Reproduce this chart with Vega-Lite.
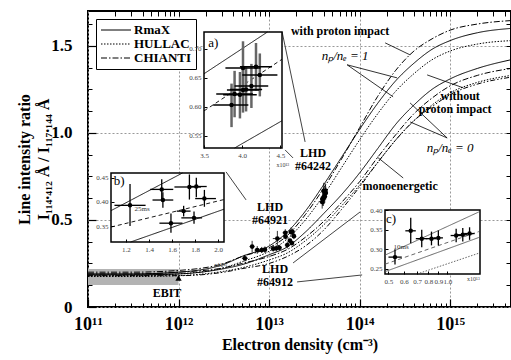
{
  "$schema": "https://vega.github.io/schema/vega-lite/v6.json",
  "width": 423,
  "height": 296,
  "autosize": {"type": "none"},
  "padding": {"left": 88, "top": 11, "right": 0, "bottom": 53},
  "background": "white",
  "config": {
    "view": {"stroke": "black", "strokeWidth": 2},
    "font": "Liberation Serif",
    "axis": {"labelFont": "Liberation Serif", "titleFont": "Liberation Serif", "labelFlush": false, "labelOverlap": false, "labelBound": false}
  },
  "datasets": {
    "curves": [
      {"n": 0.01, "A": 0.19, "B": 0.18, "C": 0.2, "D": 0.185, "E": 0.175, "F": 0.19, "G": 0.18},
      {"n": 0.0316, "A": 0.19, "B": 0.18, "C": 0.2, "D": 0.185, "E": 0.175, "F": 0.19, "G": 0.18},
      {"n": 0.1, "A": 0.2, "B": 0.19, "C": 0.21, "D": 0.19, "E": 0.18, "F": 0.2, "G": 0.18},
      {"n": 0.316, "A": 0.245, "B": 0.225, "C": 0.25, "D": 0.22, "E": 0.205, "F": 0.225, "G": 0.2},
      {"n": 0.5, "A": 0.29, "B": 0.26, "C": 0.29, "D": 0.243, "E": 0.225, "F": 0.25, "G": 0.22},
      {"n": 1, "A": 0.35, "B": 0.32, "C": 0.34, "D": 0.3, "E": 0.27, "F": 0.29, "G": 0.25},
      {"n": 1.585, "A": 0.43, "B": 0.39, "C": 0.41, "D": 0.345, "E": 0.31, "F": 0.33, "G": 0.29},
      {"n": 2.512, "A": 0.55, "B": 0.5, "C": 0.53, "D": 0.43, "E": 0.38, "F": 0.4, "G": 0.35},
      {"n": 3.981, "A": 0.7, "B": 0.64, "C": 0.68, "D": 0.535, "E": 0.47, "F": 0.49, "G": 0.44},
      {"n": 6.31, "A": 0.86, "B": 0.8, "C": 0.85, "D": 0.645, "E": 0.58, "F": 0.6, "G": 0.56},
      {"n": 10, "A": 1.02, "B": 0.96, "C": 1.03, "D": 0.77, "E": 0.7, "F": 0.72, "G": 0.69},
      {"n": 15.85, "A": 1.17, "B": 1.11, "C": 1.21, "D": 0.91, "E": 0.83, "F": 0.86, "G": 0.83},
      {"n": 25.12, "A": 1.3, "B": 1.24, "C": 1.36, "D": 1.05, "E": 0.96, "F": 0.99, "G": 0.96},
      {"n": 39.81, "A": 1.4, "B": 1.34, "C": 1.47, "D": 1.16, "E": 1.07, "F": 1.11, "G": 1.07},
      {"n": 63.1, "A": 1.48, "B": 1.42, "C": 1.54, "D": 1.25, "E": 1.16, "F": 1.2, "G": 1.15},
      {"n": 100, "A": 1.53, "B": 1.47, "C": 1.59, "D": 1.31, "E": 1.23, "F": 1.27, "G": 1.22},
      {"n": 199.5, "A": 1.575, "B": 1.51, "C": 1.625, "D": 1.37, "E": 1.29, "F": 1.33, "G": 1.28},
      {"n": 470, "A": 1.6, "B": 1.53, "C": 1.645, "D": 1.42, "E": 1.33, "F": 1.37, "G": 1.32}
    ],
    "models": [
      {"c": "A", "m": "RmaX"}, {"c": "B", "m": "HULLAC"}, {"c": "C", "m": "CHIANTI"},
      {"c": "D", "m": "RmaX"}, {"c": "E", "m": "HULLAC"}, {"c": "F", "m": "CHIANTI"}, {"c": "G", "m": "mono"}
    ],
    "pts": [
      {"s": "a", "n": 3.86, "r": 0.603, "nlo": 3.62, "nhi": 4.08, "rlo": 0.565, "rhi": 0.64},
      {"s": "a", "n": 3.9, "r": 0.622, "nlo": 3.66, "nhi": 4.14, "rlo": 0.582, "rhi": 0.662},
      {"s": "a", "n": 3.97, "r": 0.621, "nlo": 3.75, "nhi": 4.19, "rlo": 0.58, "rhi": 0.66},
      {"s": "a", "n": 4.01, "r": 0.629, "nlo": 3.8, "nhi": 4.22, "rlo": 0.59, "rhi": 0.668},
      {"s": "a", "n": 4.05, "r": 0.63, "nlo": 3.84, "nhi": 4.26, "rlo": 0.592, "rhi": 0.668},
      {"s": "a", "n": 4.12, "r": 0.636, "nlo": 3.9, "nhi": 4.34, "rlo": 0.598, "rhi": 0.674},
      {"s": "a", "n": 4.01, "r": 0.667, "nlo": 3.78, "nhi": 4.24, "rlo": 0.62, "rhi": 0.713},
      {"s": "a", "n": 4.18, "r": 0.669, "nlo": 3.97, "nhi": 4.39, "rlo": 0.628, "rhi": 0.71},
      {"s": "a", "n": 4.23, "r": 0.655, "nlo": 4.0, "nhi": 4.46, "rlo": 0.618, "rhi": 0.692},
      {"s": "b", "n": 1.235, "r": 0.393, "nlo": 1.1, "nhi": 1.37, "rlo": 0.35, "rhi": 0.437},
      {"s": "b", "n": 1.51, "r": 0.426, "nlo": 1.41, "nhi": 1.61, "rlo": 0.405, "rhi": 0.447},
      {"s": "b", "n": 1.52, "r": 0.404, "nlo": 1.43, "nhi": 1.61, "rlo": 0.388, "rhi": 0.42},
      {"s": "b", "n": 1.59, "r": 0.356, "nlo": 1.49, "nhi": 1.69, "rlo": 0.336, "rhi": 0.376},
      {"s": "b", "n": 1.7, "r": 0.381, "nlo": 1.64, "nhi": 1.76, "rlo": 0.37, "rhi": 0.392},
      {"s": "b", "n": 1.75, "r": 0.431, "nlo": 1.62, "nhi": 1.85, "rlo": 0.405, "rhi": 0.457},
      {"s": "b", "n": 1.81, "r": 0.432, "nlo": 1.74, "nhi": 1.9, "rlo": 0.41, "rhi": 0.45},
      {"s": "b", "n": 1.79, "r": 0.367, "nlo": 1.68, "nhi": 1.86, "rlo": 0.355, "rhi": 0.38},
      {"s": "b", "n": 1.88, "r": 0.407, "nlo": 1.8, "nhi": 1.98, "rlo": 0.39, "rhi": 0.425},
      {"s": "c", "n": 0.54, "r": 0.28, "nlo": 0.5, "nhi": 0.585, "rlo": 0.261, "rhi": 0.3},
      {"s": "c", "n": 0.65, "r": 0.347, "nlo": 0.61, "nhi": 0.69, "rlo": 0.315, "rhi": 0.38},
      {"s": "c", "n": 0.74, "r": 0.327, "nlo": 0.69, "nhi": 0.79, "rlo": 0.305, "rhi": 0.35},
      {"s": "c", "n": 0.83, "r": 0.327, "nlo": 0.78, "nhi": 0.88, "rlo": 0.31, "rhi": 0.345},
      {"s": "c", "n": 0.9, "r": 0.329, "nlo": 0.85, "nhi": 0.95, "rlo": 0.31, "rhi": 0.348},
      {"s": "c", "n": 1.11, "r": 0.335, "nlo": 1.04, "nhi": 1.18, "rlo": 0.318, "rhi": 0.352},
      {"s": "c", "n": 1.2, "r": 0.337, "nlo": 1.13, "nhi": 1.27, "rlo": 0.32, "rhi": 0.354},
      {"s": "c", "n": 1.3, "r": 0.34, "nlo": 1.22, "nhi": 1.38, "rlo": 0.324, "rhi": 0.356}
    ],
    "frames": [
      {"s": "a", "x1": 3.5, "x2": 4.52, "y1": 0.529, "y2": 0.729},
      {"s": "b", "x1": 1.07, "x2": 2.05, "y1": 0.317, "y2": 0.46},
      {"s": "c", "x1": 0.48, "x2": 1.47, "y1": 0.237, "y2": 0.4}
    ],
    "il": [
      {"s": "a", "id": "a1", "k": "RmaX", "n": 3.5, "r": 0.657}, {"s": "a", "id": "a1", "k": "RmaX", "n": 4.33, "r": 0.729},
      {"s": "a", "id": "a2", "k": "dash", "n": 3.5, "r": 0.593}, {"s": "a", "id": "a2", "k": "dash", "n": 4.52, "r": 0.682},
      {"s": "a", "id": "a3", "k": "RmaX", "n": 3.9, "r": 0.529}, {"s": "a", "id": "a3", "k": "RmaX", "n": 4.52, "r": 0.576},
      {"s": "b", "id": "b1", "k": "RmaX", "n": 1.07, "r": 0.382}, {"s": "b", "id": "b1", "k": "RmaX", "n": 1.69, "r": 0.46},
      {"s": "b", "id": "b2", "k": "dash", "n": 1.07, "r": 0.348}, {"s": "b", "id": "b2", "k": "dash", "n": 2.05, "r": 0.405},
      {"s": "b", "id": "b3", "k": "RmaX", "n": 1.24, "r": 0.317}, {"s": "b", "id": "b3", "k": "RmaX", "n": 2.05, "r": 0.385},
      {"s": "c", "id": "c1", "k": "RmaX", "n": 0.48, "r": 0.285}, {"s": "c", "id": "c1", "k": "RmaX", "n": 1.45, "r": 0.395},
      {"s": "c", "id": "c2", "k": "dash", "n": 0.48, "r": 0.262}, {"s": "c", "id": "c2", "k": "dash", "n": 1.45, "r": 0.345},
      {"s": "c", "id": "c3", "k": "RmaX", "n": 0.48, "r": 0.243}, {"s": "c", "id": "c3", "k": "RmaX", "n": 1.45, "r": 0.33},
      {"s": "c", "id": "c4", "k": "HULLAC", "n": 0.7, "r": 0.237}, {"s": "c", "id": "c4", "k": "HULLAC", "n": 1.45, "r": 0.29}
    ],
    "itext": [
      {"s": "a", "g": "big", "t": "a)", "n": 3.62, "r": 0.71},
      {"s": "a", "g": "exp", "t": "x10¹³", "n": 4.53, "r": 0.5},
      {"s": "b", "g": "big", "t": "b)", "n": 1.14, "r": 0.443},
      {"s": "b", "g": "small", "t": "25ms", "n": 1.34, "r": 0.386},
      {"s": "b", "g": "exp", "t": "x10¹³", "n": 2.02, "r": 0.27},
      {"s": "c", "g": "big", "t": "c)", "n": 0.515, "r": 0.378},
      {"s": "c", "g": "small", "t": "10ms", "n": 0.58, "r": 0.306},
      {"s": "c", "g": "exp", "t": "x10¹³", "n": 1.36, "r": 0.225}
    ],
    "labels": [
      {"g": "b", "t": "with proton impact", "n": 6.09, "r": 1.586},
      {"g": "i", "t": "nₚ/nₑ = 1", "n": 6.92, "r": 1.443},
      {"g": "b", "t": "without", "n": 128.9, "r": 1.214},
      {"g": "b", "t": "proton impact", "n": 113.6, "r": 1.14},
      {"g": "i", "t": "nₚ/nₑ = 0", "n": 100, "r": 0.914},
      {"g": "b", "t": "monoenergetic", "n": 28, "r": 0.695},
      {"g": "b", "t": "LHD", "n": 3.06, "r": 0.885},
      {"g": "b", "t": "#64242", "n": 3.06, "r": 0.812},
      {"g": "b", "t": "LHD", "n": 1.026, "r": 0.575},
      {"g": "b", "t": "#64921", "n": 1.026, "r": 0.502},
      {"g": "b", "t": "LHD", "n": 1.165, "r": 0.216},
      {"g": "b", "t": "#64912", "n": 1.165, "r": 0.143},
      {"g": "b", "t": "EBIT", "n": 0.0746, "r": 0.08}
    ],
    "leaders": [
      {"g": "l", "n": 1.393, "r": 1.58, "n2": 2.5, "r2": 0.948},
      {"g": "l", "n": 1.503, "r": 0.902, "n2": 1.841, "r2": 0.856},
      {"g": "l", "n": 0.335, "r": 0.776, "n2": 0.557, "r2": 0.615},
      {"g": "l", "n": 1.841, "r": 0.253, "n2": 10.13, "r2": 0.546},
      {"g": "l", "n": 2.04, "r": 0.144, "n2": 10.66, "r2": 0.184},
      {"g": "a", "n": 19.14, "r": 1.517, "n2": 36.1, "r2": 1.448},
      {"g": "a", "n": 7.28, "r": 1.391, "n2": 25.96, "r2": 1.316},
      {"g": "a", "n": 7.28, "r": 1.391, "n2": 23.44, "r2": 1.207},
      {"g": "a", "n": 139.2, "r": 1.259, "n2": 55.7, "r2": 1.333},
      {"g": "a", "n": 92.6, "r": 0.971, "n2": 36.1, "r2": 1.172},
      {"g": "a", "n": 92.6, "r": 0.971, "n2": 36.1, "r2": 1.063},
      {"g": "a", "n": 30.3, "r": 0.741, "n2": 15.6, "r2": 0.862}
    ]
  },
  "layer": [
    {
      "encoding": {
        "x": {
          "field": "n", "type": "quantitative",
          "scale": {"type": "log", "domain": [0.01, 470], "nice": false},
          "axis": {
            "orient": "bottom",
            "values": [0.01, 0.1, 1, 10, 100],
            "labelExpr": "datum.value < 0.05 ? '10¹¹' : datum.value < 0.5 ? '10¹²' : datum.value < 5 ? '10¹³' : datum.value < 50 ? '10¹⁴' : '10¹⁵'",
            "title": "Electron density (cm⁻³)",
            "titleFontSize": 16, "titleFontWeight": "bold", "titleColor": "black", "titlePadding": 3,
            "labelFontSize": 18, "labelFontWeight": "bold", "labelColor": "black", "labelPadding": 16,
            "grid": true, "gridColor": "#999", "gridDash": [2, 2], "gridWidth": 1,
            "tickSize": -8, "tickColor": "black", "tickWidth": 1.2, "domain": false
          }
        },
        "y": {
          "field": "r", "type": "quantitative",
          "scale": {"domain": [0, 1.7], "nice": false},
          "axis": {
            "orient": "left",
            "values": [0, 0.5, 1, 1.5],
            "labelExpr": "datum.value == 0 ? '0' : format(datum.value, '.1f')",
            "title": ["Line intensity ratio", "I₁₁₄.₄₁₂ Å / I₁₁₇.₁₄₄ Å"],
            "titleFontSize": 16, "titleFontWeight": "bold", "titleColor": "black", "titlePadding": -1, "titleLineHeight": 19,
            "labelFontSize": 17, "labelFontWeight": "bold", "labelColor": "black", "labelPadding": 24,
            "grid": true, "gridColor": "#999", "gridDash": [2, 2], "gridWidth": 1,
            "tickSize": -8, "tickColor": "black", "tickWidth": 1.2, "domain": false
          }
        }
      },
      "layer": [
        {
          "data": {"values": [{"n": 0.01, "n2": 0.1, "r": 0.126, "r2": 0.218}]},
          "mark": {"type": "rect", "color": "#b3b3b3"},
          "encoding": {"x2": {"field": "n2"}, "y2": {"field": "r2"}}
        },
        {
          "data": {"name": "curves"},
          "transform": [
            {"fold": ["A", "B", "C", "D", "E", "F", "G"], "as": ["c", "r"]},
            {"lookup": "c", "from": {"data": {"name": "models"}, "key": "c", "fields": ["m"]}}
          ],
          "mark": {"type": "line", "color": "black", "strokeWidth": 1, "interpolate": "monotone", "clip": true},
          "encoding": {
            "detail": {"field": "c"},
            "strokeDash": {
              "field": "m", "type": "nominal",
              "scale": {"domain": ["RmaX", "HULLAC", "CHIANTI", "mono", "dash"], "range": [[1, 0], [1.5, 1.5], [6, 2, 1.5, 2], [5, 2, 1.5, 2, 1.5, 2], [4, 3]]},
              "legend": {
                "orient": "top-left", "offset": 8, "title": null,
                "values": ["RmaX", "HULLAC", "CHIANTI"],
                "symbolType": "M-1,0L4,0", "symbolSize": 144, "symbolStrokeWidth": 1.2, "symbolStrokeColor": "black",
                "labelFont": "Liberation Serif", "labelFontWeight": "bold", "labelFontSize": 13, "labelColor": "black",
                "strokeColor": "black", "fillColor": "white", "padding": 4, "rowPadding": 0, "labelOffset": 20
              }
            }
          }
        },
        {
          "data": {"name": "pts"},
          "mark": {"type": "rule", "color": "black", "strokeWidth": 0.8},
          "encoding": {"x": {"field": "nlo", "type": "quantitative"}, "x2": {"field": "nhi"}}
        },
        {
          "data": {"name": "pts"},
          "mark": {"type": "rule", "color": "black", "strokeWidth": 0.8},
          "encoding": {"y": {"field": "rlo", "type": "quantitative"}, "y2": {"field": "rhi"}}
        },
        {
          "data": {"name": "pts"},
          "mark": {"type": "point", "filled": true, "color": "black", "size": 22, "opacity": 1}
        },
        {
          "data": {"values": [{"n": 0.1, "r": 0.167}]},
          "mark": {"type": "point", "shape": "triangle-up", "filled": true, "color": "black", "size": 40, "opacity": 1}
        },
        {
          "data": {"name": "leaders"},
          "transform": [{"filter": "datum.g == 'l'"}],
          "mark": {"type": "rule", "color": "#444", "strokeWidth": 1},
          "encoding": {"x2": {"field": "n2"}, "y2": {"field": "r2"}}
        },
        {
          "data": {"name": "leaders"},
          "transform": [{"filter": "datum.g == 'a'"}],
          "mark": {"type": "rule", "color": "black", "strokeWidth": 0.8},
          "encoding": {"x2": {"field": "n2"}, "y2": {"field": "r2"}}
        },
        {
          "data": {"name": "labels"},
          "transform": [{"filter": "datum.g == 'b'"}],
          "mark": {"type": "text", "font": "Liberation Serif", "fontWeight": "bold", "fontSize": 12, "color": "black"},
          "encoding": {"text": {"field": "t"}}
        },
        {
          "data": {"name": "labels"},
          "transform": [{"filter": "datum.g == 'i'"}],
          "mark": {"type": "text", "font": "Liberation Serif", "fontStyle": "italic", "fontSize": 13, "color": "black"},
          "encoding": {"text": {"field": "t"}}
        }
      ]
    },
    {
      "encoding": {
        "x": {
          "field": "n", "type": "quantitative",
          "scale": {"domain": [3.5, 4.52], "range": [116, 194], "nice": false, "zero": false},
          "axis": {"orient": "bottom", "offset": -159, "values": [3.5, 4.0, 4.5], "format": ".1f", "title": null, "domain": false, "grid": false, "tickSize": -3, "tickColor": "black", "labelFontSize": 7, "labelColor": "#444", "labelPadding": 6, "zindex": 2}
        },
        "y": {
          "field": "r", "type": "quantitative",
          "scale": {"domain": [0.529, 0.729], "range": [137, 21], "nice": false, "zero": false},
          "axis": {"orient": "left", "offset": -116, "values": [0.55, 0.6, 0.65, 0.7], "format": ".2f", "title": null, "domain": false, "grid": false, "tickSize": -3, "tickColor": "black", "labelFontSize": 7, "labelColor": "#444", "labelPadding": 6, "zindex": 2}
        }
      },
      "layer": [
        {
          "data": {"name": "frames"},
          "transform": [{"filter": "datum.s == 'a'"}],
          "mark": {"type": "rect", "fill": "white", "stroke": "black", "strokeWidth": 1.5},
          "encoding": {"x": {"field": "x1", "type": "quantitative"}, "x2": {"field": "x2"}, "y": {"field": "y1", "type": "quantitative"}, "y2": {"field": "y2"}}
        },
        {
          "data": {"name": "il"},
          "transform": [{"filter": "datum.s == 'a'"}],
          "mark": {"type": "line", "color": "black", "strokeWidth": 0.9},
          "encoding": {"detail": {"field": "id"}, "strokeDash": {"field": "k", "type": "nominal", "legend": null}}
        },
        {
          "data": {"name": "pts"},
          "transform": [{"filter": "datum.s == 'a'"}],
          "mark": {"type": "rule", "color": "#666", "strokeWidth": 2.5},
          "encoding": {"y": {"field": "rlo", "type": "quantitative"}, "y2": {"field": "rhi"}}
        },
        {
          "data": {"name": "pts"},
          "transform": [{"filter": "datum.s == 'a'"}],
          "mark": {"type": "rule", "color": "black", "strokeWidth": 1.5},
          "encoding": {"x": {"field": "nlo", "type": "quantitative"}, "x2": {"field": "nhi"}}
        },
        {
          "data": {"name": "pts"},
          "transform": [{"filter": "datum.s == 'a'"}],
          "mark": {"type": "point", "filled": true, "color": "black", "size": 20, "opacity": 1}
        },
        {
          "data": {"name": "itext"},
          "transform": [{"filter": "datum.s == 'a' && datum.g == 'big'"}],
          "mark": {"type": "text", "fontSize": 13, "color": "black", "font": "Liberation Serif"},
          "encoding": {"text": {"field": "t"}}
        },
        {
          "data": {"name": "itext"},
          "transform": [{"filter": "datum.s == 'a' && datum.g == 'exp'"}],
          "mark": {"type": "text", "fontSize": 6, "color": "#444", "font": "Liberation Serif"},
          "encoding": {"text": {"field": "t"}}
        }
      ]
    },
    {
      "encoding": {
        "x": {
          "field": "n", "type": "quantitative",
          "scale": {"domain": [1.07, 2.05], "range": [23, 136], "nice": false, "zero": false},
          "axis": {"orient": "bottom", "offset": -65, "values": [1.2, 1.4, 1.6, 1.8, 2.0], "format": ".1f", "title": null, "domain": false, "grid": false, "tickSize": -3, "tickColor": "black", "labelFontSize": 7, "labelColor": "#444", "labelPadding": 6, "zindex": 2}
        },
        "y": {
          "field": "r", "type": "quantitative",
          "scale": {"domain": [0.317, 0.46], "range": [231, 162], "nice": false, "zero": false},
          "axis": {"orient": "left", "offset": -23, "values": [0.35, 0.4, 0.45], "format": ".2f", "title": null, "domain": false, "grid": false, "tickSize": -3, "tickColor": "black", "labelFontSize": 7, "labelColor": "#444", "labelPadding": 6, "zindex": 2}
        }
      },
      "layer": [
        {
          "data": {"name": "frames"},
          "transform": [{"filter": "datum.s == 'b'"}],
          "mark": {"type": "rect", "fill": "white", "stroke": "black", "strokeWidth": 1.5},
          "encoding": {"x": {"field": "x1", "type": "quantitative"}, "x2": {"field": "x2"}, "y": {"field": "y1", "type": "quantitative"}, "y2": {"field": "y2"}}
        },
        {
          "data": {"name": "il"},
          "transform": [{"filter": "datum.s == 'b'"}],
          "mark": {"type": "line", "color": "black", "strokeWidth": 0.9},
          "encoding": {"detail": {"field": "id"}, "strokeDash": {"field": "k", "type": "nominal", "legend": null}}
        },
        {
          "data": {"name": "pts"},
          "transform": [{"filter": "datum.s == 'b'"}],
          "mark": {"type": "rule", "color": "black", "strokeWidth": 1.3},
          "encoding": {"y": {"field": "rlo", "type": "quantitative"}, "y2": {"field": "rhi"}}
        },
        {
          "data": {"name": "pts"},
          "transform": [{"filter": "datum.s == 'b'"}],
          "mark": {"type": "rule", "color": "black", "strokeWidth": 1.3},
          "encoding": {"x": {"field": "nlo", "type": "quantitative"}, "x2": {"field": "nhi"}}
        },
        {
          "data": {"name": "pts"},
          "transform": [{"filter": "datum.s == 'b'"}],
          "mark": {"type": "point", "filled": true, "color": "black", "size": 20, "opacity": 1}
        },
        {
          "data": {"name": "itext"},
          "transform": [{"filter": "datum.s == 'b' && datum.g == 'big'"}],
          "mark": {"type": "text", "fontSize": 13, "color": "black", "font": "Liberation Serif"},
          "encoding": {"text": {"field": "t"}}
        },
        {
          "data": {"name": "itext"},
          "transform": [{"filter": "datum.s == 'b' && datum.g == 'small'"}],
          "mark": {"type": "text", "fontSize": 7, "color": "#333", "font": "Liberation Serif"},
          "encoding": {"text": {"field": "t"}}
        },
        {
          "data": {"name": "itext"},
          "transform": [{"filter": "datum.s == 'b' && datum.g == 'exp'"}],
          "mark": {"type": "text", "fontSize": 6, "color": "#444", "font": "Liberation Serif"},
          "encoding": {"text": {"field": "t"}}
        }
      ]
    },
    {
      "encoding": {
        "x": {
          "field": "n", "type": "quantitative",
          "scale": {"type": "log", "domain": [0.48, 1.47], "range": [297, 392], "nice": false},
          "axis": {"orient": "bottom", "offset": -33, "values": [0.5, 0.6, 0.7, 0.8, 0.9, 1.0], "format": ".1f", "title": null, "domain": false, "grid": false, "tickSize": -3, "tickColor": "black", "labelFontSize": 7, "labelColor": "#444", "labelPadding": 6, "zindex": 2}
        },
        "y": {
          "field": "r", "type": "quantitative",
          "scale": {"domain": [0.237, 0.4], "range": [263, 199], "nice": false, "zero": false},
          "axis": {"orient": "left", "offset": -297, "values": [0.25, 0.3, 0.35, 0.4], "format": ".2f", "title": null, "domain": false, "grid": false, "tickSize": -3, "tickColor": "black", "labelFontSize": 7, "labelColor": "#444", "labelPadding": 6, "zindex": 2}
        }
      },
      "layer": [
        {
          "data": {"name": "frames"},
          "transform": [{"filter": "datum.s == 'c'"}],
          "mark": {"type": "rect", "fill": "white", "stroke": "black", "strokeWidth": 1.5},
          "encoding": {"x": {"field": "x1", "type": "quantitative"}, "x2": {"field": "x2"}, "y": {"field": "y1", "type": "quantitative"}, "y2": {"field": "y2"}}
        },
        {
          "data": {"name": "il"},
          "transform": [{"filter": "datum.s == 'c'"}],
          "mark": {"type": "line", "color": "#555", "strokeWidth": 0.9},
          "encoding": {"detail": {"field": "id"}, "strokeDash": {"field": "k", "type": "nominal", "legend": null}}
        },
        {
          "data": {"name": "pts"},
          "transform": [{"filter": "datum.s == 'c'"}],
          "mark": {"type": "rule", "color": "black", "strokeWidth": 1.3},
          "encoding": {"y": {"field": "rlo", "type": "quantitative"}, "y2": {"field": "rhi"}}
        },
        {
          "data": {"name": "pts"},
          "transform": [{"filter": "datum.s == 'c'"}],
          "mark": {"type": "rule", "color": "black", "strokeWidth": 1.3},
          "encoding": {"x": {"field": "nlo", "type": "quantitative"}, "x2": {"field": "nhi"}}
        },
        {
          "data": {"name": "pts"},
          "transform": [{"filter": "datum.s == 'c'"}],
          "mark": {"type": "point", "filled": true, "color": "black", "size": 20, "opacity": 1}
        },
        {
          "data": {"name": "itext"},
          "transform": [{"filter": "datum.s == 'c' && datum.g == 'big'"}],
          "mark": {"type": "text", "fontSize": 13, "color": "black", "font": "Liberation Serif"},
          "encoding": {"text": {"field": "t"}}
        },
        {
          "data": {"name": "itext"},
          "transform": [{"filter": "datum.s == 'c' && datum.g == 'small'"}],
          "mark": {"type": "text", "fontSize": 7, "color": "#333", "font": "Liberation Serif"},
          "encoding": {"text": {"field": "t"}}
        },
        {
          "data": {"name": "itext"},
          "transform": [{"filter": "datum.s == 'c' && datum.g == 'exp'"}],
          "mark": {"type": "text", "fontSize": 6, "color": "#444", "font": "Liberation Serif"},
          "encoding": {"text": {"field": "t"}}
        }
      ]
    },
    {
      "data": {"values": [{"n": 1, "r": 1}]},
      "mark": {"type": "point", "opacity": 0},
      "encoding": {
        "x": {
          "field": "n", "type": "quantitative",
          "scale": {"type": "log", "domain": [0.01, 470], "nice": false},
          "axis": {"orient": "bottom", "values": [0.02,0.03,0.04,0.05,0.06,0.07,0.08,0.09,0.2,0.3,0.4,0.5,0.6,0.7,0.8,0.9,2,3,4,5,6,7,8,9,20,30,40,50,60,70,80,90,200,300,400], "labels": false, "title": null, "grid": false, "domain": false, "tickSize": -4, "tickColor": "black", "tickWidth": 1}
        },
        "y": {
          "field": "r", "type": "quantitative",
          "scale": {"domain": [0, 1.7], "nice": false},
          "axis": {"orient": "left", "values": [0.125,0.25,0.375,0.625,0.75,0.875,1.125,1.25,1.375,1.625], "labels": false, "title": null, "grid": false, "domain": false, "tickSize": -4, "tickColor": "black", "tickWidth": 1}
        }
      }
    },
    {
      "data": {"values": [{"n": 1, "r": 1}]},
      "mark": {"type": "point", "opacity": 0},
      "encoding": {
        "x": {
          "field": "n", "type": "quantitative",
          "scale": {"type": "log", "domain": [0.01, 470], "nice": false},
          "axis": {"orient": "top", "values": [0.02,0.03,0.04,0.05,0.06,0.07,0.08,0.09,0.1,0.2,0.3,0.4,0.5,0.6,0.7,0.8,0.9,1,2,3,4,5,6,7,8,9,10,20,30,40,50,60,70,80,90,100,200,300,400], "labels": false, "title": null, "grid": false, "domain": false, "tickSize": -5, "tickColor": "black", "tickWidth": 1}
        },
        "y": {
          "field": "r", "type": "quantitative",
          "scale": {"domain": [0, 1.7], "nice": false},
          "axis": {"orient": "right", "values": [0.125,0.25,0.375,0.5,0.625,0.75,0.875,1,1.125,1.25,1.375,1.5,1.625], "labels": false, "title": null, "grid": false, "domain": false, "tickSize": -5, "tickColor": "black", "tickWidth": 1}
        }
      }
    }
  ],
  "resolve": {
    "scale": {"x": "independent", "y": "independent"},
    "axis": {"x": "independent", "y": "independent"}
  }
}
